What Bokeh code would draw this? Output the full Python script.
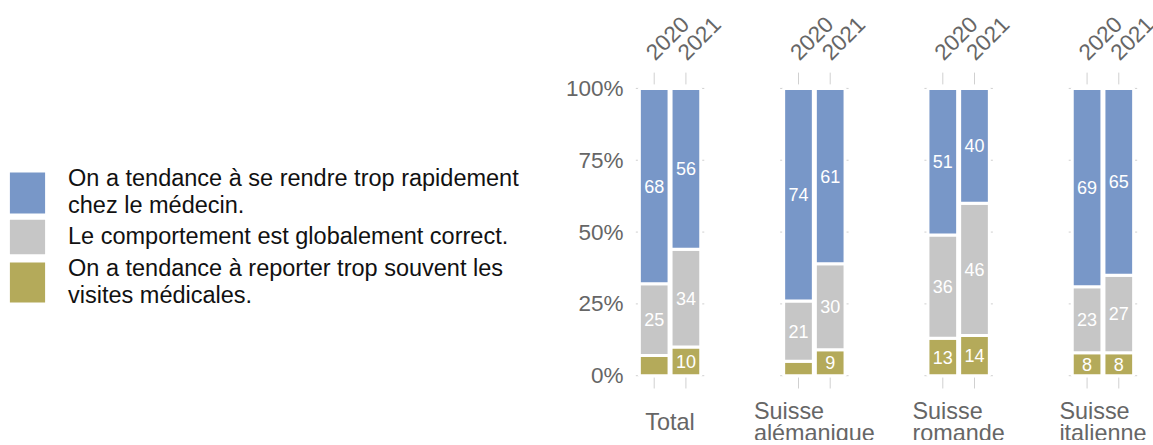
import math
from bokeh.plotting import figure
from bokeh.models import (FactorRange, Range1d, ColumnDataSource,
                          FixedTicker, LabelSet, Legend, LegendItem)
from bokeh.transform import dodge
from bokeh.layouts import row
from bokeh.embed import file_html
from bokeh.resources import INLINE
from bokeh.core.properties import value

# ---------------- data ----------------
groups = ["Total", "Suisse alémanique", "Suisse romande", "Suisse italienne"]
group_labels = ["Total", "Suisse\nalémanique", "Suisse\nromande", "Suisse\nitalienne"]
years = ["2020", "2021"]
# order: Total 2020, Total 2021, alémanique 2020, 2021, romande 2020, 2021, italienne 2020, 2021
trop_rapidement = [68, 56, 74, 61, 51, 40, 69, 65]
correct = [25, 34, 21, 30, 36, 46, 23, 27]
reporter = [7, 10, 5, 9, 13, 14, 8, 8]
series_names = [
    "On a tendance à se rendre trop rapidement\nchez le médecin.",
    "Le comportement est globalement correct.",
    "On a tendance à reporter trop souvent les\nvisites médicales.",
]
colors = ["#7897C8", "#C6C6C6", "#B4AA5A"]
y_ticks = [0, 25, 50, 75, 100]
y_tick_labels = ["0%", "25%", "50%", "75%", "100%"]

FONT = "Liberation Sans"
GREY_TXT = "#666666"
TICK_COL = "#d0d0d0"
H = 440

factors = [(g, y) for g in groups for y in years]

# ---------------- chart figure ----------------
x_range = FactorRange(*factors, factor_padding=0.0, group_padding=2.552,
                      range_padding=0.076)
p = figure(width=605, height=H, x_range=x_range, y_range=Range1d(-22.55, 130.6),
           toolbar_location=None, output_backend="svg", x_axis_location=None,
           min_border_left=71, min_border_right=0, min_border_top=0, min_border_bottom=0,
           outline_line_color=None)
p.xgrid.visible = False
p.ygrid.visible = False

# stacked segments
b_rep = [0] * len(factors)
t_rep = reporter[:]
b_cor = t_rep[:]
t_cor = [a + b for a, b in zip(b_cor, correct)]
b_tro = t_cor[:]
t_tro = [a + b for a, b in zip(b_tro, trop_rapidement)]

# light grid stubs beside the bars
stub_l = [(g, years[0]) for g in groups for t in y_ticks]
stub_r = [(g, years[1]) for g in groups for t in y_ticks]
stub_y = [t for g in groups for t in y_ticks]
stub_src = ColumnDataSource(dict(xl=stub_l, xr=stub_r, y=stub_y))
p.segment(x0=dodge("xl", -0.58, range=x_range), x1=dodge("xl", -0.40, range=x_range),
          y0="y", y1="y", source=stub_src, line_color=TICK_COL, line_width=1)
p.segment(x0=dodge("xr", 0.40, range=x_range), x1=dodge("xr", 0.58, range=x_range),
          y0="y", y1="y", source=stub_src, line_color=TICK_COL, line_width=1)

# tick marks above and below each bar
tick_src = ColumnDataSource(dict(x=factors))
p.segment(x0="x", x1="x", y0=101.4, y1=105.5, source=tick_src,
          line_color=TICK_COL, line_width=1)
p.segment(x0="x", x1="x", y0=-0.6, y1=-4.45, source=tick_src,
          line_color=TICK_COL, line_width=1)

bw = 0.937
for vals, bot, top, col in [(reporter, b_rep, t_rep, colors[2]),
                            (correct, b_cor, t_cor, colors[1]),
                            (trop_rapidement, b_tro, t_tro, colors[0])]:
    src = ColumnDataSource(dict(
        x=factors, bottom=bot, top=top,
        mid=[(a + b) / 2 for a, b in zip(bot, top)],
        lab=[str(v) if v >= 8 else "" for v in vals]))
    p.vbar(x="x", bottom="bottom", top="top", width=bw, source=src,
           fill_color=col, line_color="white", line_width=3)
    p.text(x="x", y="mid", text="lab", source=src, text_align="center",
           text_baseline="middle", text_color="white",
           text_font=value(FONT), text_font_size="18px")

# y axis
p.yaxis.ticker = FixedTicker(ticks=y_ticks)
p.yaxis.major_label_overrides = {t: l for t, l in zip(y_ticks, y_tick_labels)}
p.yaxis.axis_line_color = None
p.yaxis.major_tick_line_color = None
p.yaxis.major_tick_out = 0
p.yaxis.major_tick_in = 0
p.yaxis.minor_tick_line_color = None
p.yaxis.major_label_standoff = -4
p.yaxis.major_label_text_font = FONT
p.yaxis.major_label_text_font_size = "22.5px"
p.yaxis.major_label_text_color = GREY_TXT

# year labels (rotated) above the ticks
ysrc = ColumnDataSource(dict(x=factors, y=[109.4] * len(factors),
                             text=[f[1] for f in factors]))
p.add_layout(LabelSet(x="x", y="y", text="text", source=ysrc, angle=math.pi / 4,
                      text_align="left", text_baseline="alphabetic", x_offset=1,
                      text_color=GREY_TXT, text_font=value(FONT),
                      text_font_size="22.5px"))

# group labels under the bars
gsrc = ColumnDataSource(dict(x=groups, y=[-16] * len(groups), text=group_labels))
p.add_layout(LabelSet(x="x", y="y", text="text", source=gsrc, text_align="center",
                      text_baseline="middle", text_color=GREY_TXT,
                      text_font=value(FONT), text_font_size="23.4px",
                      text_line_height=0.85))

# ---------------- legend figure ----------------
lf = figure(width=548, height=H, x_range=(0, 1), y_range=(0, 1),
            toolbar_location=None, output_backend="svg",
            x_axis_type=None, y_axis_type=None,
            min_border_left=0, min_border_top=0, min_border_right=0, min_border_bottom=0,
            outline_line_color=None)
lf.xgrid.visible = False
lf.ygrid.visible = False
# one legend box per series, so that each key can have its own height
key_heights = [51, 43, 50]
key_locations = [(5, 221), (5, 182), (5, 131)]
for name, col, kh, loc in zip(series_names, colors, key_heights, key_locations):
    r = lf.vbar(x=[0.5], top=[1], width=1, fill_color=col, line_color=None,
                visible=False)
    lf.add_layout(Legend(items=[LegendItem(label=name, renderers=[r])], location=loc,
                         margin=0, padding=0, spacing=0,
                         glyph_width=44, glyph_height=kh, label_standoff=19,
                         label_text_font=FONT, label_text_font_size="23.5px",
                         label_text_line_height=1.03,
                         label_text_color="#111111", border_line_alpha=0,
                         background_fill_alpha=0))

layout = row(lf, p)
open("out.html", "w").write(file_html(layout, INLINE))
